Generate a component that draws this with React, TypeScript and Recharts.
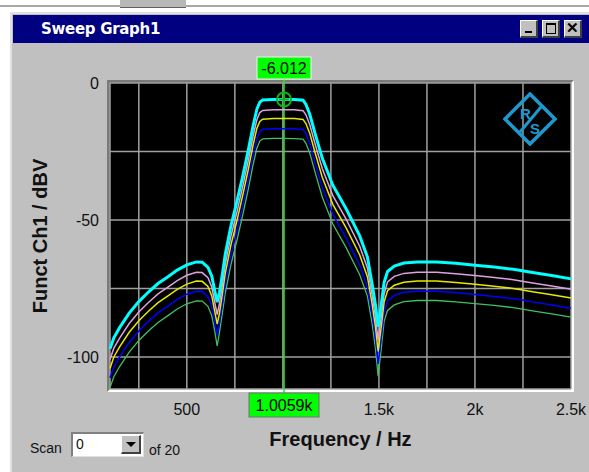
import React from "react";
import {
  LineChart,
  Line,
  XAxis,
  YAxis,
  CartesianGrid,
  ReferenceLine,
  ReferenceDot,
  Label,
} from "recharts";

// sweep frequencies (Hz)
const freqHz = [
  100, 120, 150, 200, 250, 300, 350, 400, 450, 500, 550, 580, 610, 630, 645,
  658, 670, 685, 700, 730, 760, 790, 820, 845, 865, 880, 895, 950, 1006, 1060,
  1105, 1120, 1140, 1170, 1205, 1260, 1330, 1400, 1440, 1465, 1482, 1496, 1512,
  1527, 1545, 1580, 1630, 1700, 1800, 1900, 2000, 2100, 2200, 2300, 2400, 2500,
];

// levels in dBV, one array per scan trace
const traceCyan = [
  -97, -93, -89.3, -84, -79.8, -76.3, -73.2, -70.8, -68.3, -66.4, -65.3, -65.4,
  -67.3, -70.5, -75.8, -80, -76.5, -69.8, -62.5, -52, -43.5, -34.3, -24.5,
  -15.6, -9.5, -7, -6.2, -6, -6.01, -6, -6.3, -7.8, -11.4, -19, -27.4, -37.3,
  -46, -55.8, -63.5, -73.5, -81, -89, -81, -72.8, -68.8, -66.8, -65.7, -65.3,
  -65.3, -65.8, -66.5, -67.2, -68, -69.2, -70.3, -71.5,
];
const tracePink = [
  -100.9, -96.8, -93.1, -87.8, -83.6, -80.1, -77, -74.6, -72.1, -70.2, -69.1,
  -69.2, -71.1, -74.5, -80, -84.5, -80.5, -73.8, -66.3, -55.8, -47.3, -38.1,
  -28.3, -19.4, -13.3, -10.8, -10, -9.8, -9.8, -9.8, -10.1, -11.6, -15.2,
  -22.8, -31.2, -41.1, -49.8, -59.6, -67.5, -77.5, -85.5, -94, -85.5, -77,
  -72.6, -70.6, -69.5, -69.1, -69.1, -69.6, -70.3, -71, -71.8, -73, -74.1,
  -75.3,
];
const traceYellow = [
  -104.2, -100, -96.3, -91, -86.8, -83.3, -80.2, -77.8, -75.3, -73.4, -72.3,
  -72.4, -74.3, -77.7, -83.3, -88, -84, -77, -69.5, -59, -50.5, -41.3, -31.5,
  -22.6, -16.5, -14, -13.2, -13, -13, -13, -13.3, -14.8, -18.4, -26, -34.4,
  -44.3, -53, -62.8, -70.7, -80.8, -89, -98, -89, -80, -75.8, -73.8, -72.7,
  -72.3, -72.3, -72.8, -73.5, -74.2, -75, -76.2, -77.3, -78.5,
];
const traceBlue = [
  -107.7, -103.7, -100, -94.7, -90.5, -87, -83.9, -81.5, -79, -77.1, -76,
  -76.1, -78, -81.4, -87, -92, -87.5, -80.7, -73.2, -62.7, -54.2, -45, -35.2,
  -26.3, -20.2, -17.7, -16.9, -16.7, -16.7, -16.7, -17, -18.5, -22.1, -29.7,
  -38.1, -48, -56.7, -66.5, -74.4, -84.5, -93, -102.5, -93, -83.7, -79.5,
  -77.5, -76.4, -76, -76, -76.5, -77.2, -77.9, -78.7, -79.9, -81, -82.2,
];
const traceGreen = [
  -111.2, -107.2, -103.5, -98.2, -94, -90.5, -87.4, -85, -82.5, -80.6, -79.5,
  -79.6, -81.5, -85, -90.5, -96, -91, -84, -76.7, -66.2, -57.7, -48.5, -38.7,
  -29.8, -23.7, -21.2, -20.4, -20.2, -20.2, -20.3, -20.5, -22, -25.6, -33.2,
  -41.6, -51.5, -60.2, -70, -77.8, -88, -97, -107, -97, -87, -83, -81, -79.8,
  -79.4, -79.4, -79.9, -80.5, -81.2, -82, -83.2, -84.3, -85.5,
];

const xTicks = [250, 500, 750, 1000, 1250, 1500, 1750, 2000, 2250, 2500];
const xTickText: Record<number, string> = {
  500: "500",
  1500: "1.5k",
  2000: "2k",
  2500: "2.5k",
};
const yTicks = [0, -25, -50, -75, -100];
const yTickText: Record<number, string> = { 0: "0", [-50]: "-50", [-100]: "-100" };

const cursorFreq = 1005.9;
const cursorLevel = -6.012;
const cursorLevelText = "-6.012";
const cursorFreqText = "1.0059k";

const FONT = '"Liberation Sans", Arial, sans-serif';

const chartData = freqHz.map((f, i) => ({
  f,
  cyan: traceCyan[i],
  pink: tracePink[i],
  yellow: traceYellow[i],
  blue: traceBlue[i],
  green: traceGreen[i],
}));

function CursorTags(props: any) {
  const vb = props.viewBox;
  if (!vb) return null;
  const { x, y, height } = vb;
  const bottom = y + height;
  return (
    <g>
      <line x1={x} x2={x} y1={y - 5} y2={y} stroke="#30e030" strokeWidth={1.5} />
      <line x1={x} x2={x} y1={bottom} y2={bottom + 5} stroke="#30e030" strokeWidth={1.5} />
      <rect x={x - 27} y={y - 26} width={54} height={22} fill="#00ff00" stroke="#f0f0f0" strokeWidth={1} />
      <text x={x} y={y - 9} textAnchor="middle" fontSize={16} fontFamily={FONT} fill="#000">
        {cursorLevelText}
      </text>
      <rect x={x - 35} y={bottom + 4} width={70} height={24} fill="#00ff00" stroke="#707070" strokeWidth={1} />
      <text x={x} y={bottom + 22} textAnchor="middle" fontSize={16} fontFamily={FONT} fill="#000">
        {cursorFreqText}
      </text>
    </g>
  );
}

function CursorMarker(props: any) {
  const { cx, cy } = props;
  return (
    <g>
      <circle cx={cx} cy={cy} r={7} fill="none" stroke="#10b010" strokeWidth={2} />
      <line x1={cx - 5} x2={cx + 5} y1={cy} y2={cy} stroke="#10b010" strokeWidth={2} />
      <line x1={cx} x2={cx} y1={cy - 5} y2={cy + 5} stroke="#10b010" strokeWidth={2} />
    </g>
  );
}

function TitleButton({ left, children }: { left: number; children: React.ReactNode }) {
  return (
    <div
      style={{
        position: "absolute",
        left,
        top: 20,
        width: 18,
        height: 18,
        boxSizing: "border-box",
        background: "#c0c0c0",
        borderTop: "1px solid #fff",
        borderLeft: "1px solid #fff",
        borderRight: "2px solid #404040",
        borderBottom: "2px solid #404040",
      }}
    >
      {children}
    </div>
  );
}

export default function App() {
  return (
    <div
      style={{
        position: "absolute",
        left: 0,
        top: 0,
        width: 589,
        height: 472,
        overflow: "hidden",
        background: "#fff",
        fontFamily: FONT,
      }}
    >
      {/* strip of the window behind */}
      <div style={{ position: "absolute", left: 0, top: 5, width: 589, height: 2, background: "#a8a8a8" }} />
      <div style={{ position: "absolute", left: 120, top: 0, width: 66, height: 7, background: "#b8b8b8", borderBottom: "1px solid #606060" }} />

      {/* window body */}
      <div
        style={{
          position: "absolute",
          left: 10,
          top: 12,
          width: 590,
          height: 470,
          background: "#c0c0c0",
          borderLeft: "2px solid #e0e0e0",
          borderTop: "2px solid #e0e0e0",
        }}
      />
      {/* title bar */}
      <div
        style={{
          position: "absolute",
          left: 13,
          top: 15,
          width: 576,
          height: 28,
          background: "#000080",
        }}
      />
      <div
        style={{
          position: "absolute",
          left: 41,
          top: 20,
          color: "#fff",
          fontWeight: "bold",
          fontSize: 15,
          fontFamily: '"DejaVu Sans", Verdana, sans-serif',
          letterSpacing: -0.3,
        }}
      >
        Sweep Graph1
      </div>
      <TitleButton left={520}>
        <div style={{ position: "absolute", left: 4, top: 10, width: 7, height: 2, background: "#000" }} />
      </TitleButton>
      <TitleButton left={542}>
        <div style={{ position: "absolute", left: 3, top: 2, width: 8, height: 8, border: "1px solid #000", borderTopWidth: 2 }} />
      </TitleButton>
      <TitleButton left={564}>
        <div style={{ position: "absolute", left: 1, top: -2, fontSize: 15, fontWeight: "bold", color: "#000" }}>
          ✕
        </div>
      </TitleButton>

      {/* sunken plot frame */}
      <div
        style={{
          position: "absolute",
          left: 107,
          top: 80,
          width: 461,
          height: 306,
          background: "#000",
          borderTop: "3px solid #7a7a7a",
          borderLeft: "3px solid #7a7a7a",
          borderRight: "3px solid #fff",
          borderBottom: "3px solid #fff",
        }}
      />

      <div style={{ position: "absolute", left: 0, top: 0 }}>
        <LineChart
          width={589}
          height={472}
          data={chartData}
          margin={{ top: 83, right: 18, bottom: 53, left: 80 }}
        >
          <CartesianGrid stroke="#a0a0a0" strokeWidth={1.5} />
          <XAxis
            dataKey="f"
            type="number"
            domain={[100, 2500]}
            ticks={xTicks}
            tickFormatter={(v: number) => xTickText[v] ?? ""}
            tickLine={false}
            axisLine={false}
            tickSize={0}
            tickMargin={15}
            height={30}
            tick={{ fontSize: 16, fill: "#111", fontFamily: FONT }}
            interval={0}
          >
            <Label
              value="Frequency / Hz"
              position="bottom"
              offset={13}
              style={{ fontSize: 20, fontWeight: "bold", fill: "#111", fontFamily: FONT }}
            />
          </XAxis>
          <YAxis
            type="number"
            domain={[-111.7, 0]}
            ticks={yTicks}
            tickFormatter={(v: number) => yTickText[v] ?? ""}
            tickLine={false}
            axisLine={false}
            tickSize={0}
            tickMargin={11}
            width={30}
            allowDataOverflow
            tick={{ fontSize: 16, fill: "#111", fontFamily: FONT }}
            interval={0}
          >
            <Label
              value="Funct Ch1 / dBV"
              angle={-90}
              position="left"
              offset={40}
              style={{ fontSize: 20, fontWeight: "bold", fill: "#111", fontFamily: FONT, textAnchor: "middle" }}
            />
          </YAxis>
          <ReferenceLine
            x={cursorFreq}
            stroke="#30e030"
            strokeWidth={1.5}
            label={<CursorTags />}
          />
          <Line dataKey="green" stroke="#40c060" strokeWidth={1.3} dot={false} isAnimationActive={false} />
          <Line dataKey="blue" stroke="#0000ff" strokeWidth={1.5} dot={false} isAnimationActive={false} />
          <Line dataKey="yellow" stroke="#e8e800" strokeWidth={1.5} dot={false} isAnimationActive={false} />
          <Line dataKey="pink" stroke="#e0a0e0" strokeWidth={1.5} dot={false} isAnimationActive={false} />
          <Line dataKey="cyan" stroke="#00ffff" strokeWidth={3} dot={false} isAnimationActive={false} />
          <ReferenceDot x={cursorFreq} y={cursorLevel} r={7} shape={<CursorMarker />} />
        </LineChart>
      </div>

      {/* R&S logo */}
      <svg style={{ position: "absolute", left: 503, top: 92 }} width={54} height={54}>
        <polygon points="27,2 52,27 27,52 2,27" fill="none" stroke="#1c9ad0" strokeWidth={3.5} />
        <line x1={17} y1={40} x2={38} y2={15} stroke="#1c9ad0" strokeWidth={3} />
        <text x={17} y={27} fontSize={15} fontWeight="bold" fill="#1c9ad0" fontFamily={FONT}>R</text>
        <text x={27} y={42} fontSize={15} fontWeight="bold" fill="#1c9ad0" fontFamily={FONT}>S</text>
      </svg>

      {/* scan selector */}
      <div style={{ position: "absolute", left: 30, top: 440, fontSize: 14, color: "#111" }}>Scan</div>
      <div
        style={{
          position: "absolute",
          left: 71,
          top: 432,
          width: 70,
          height: 22,
          background: "#fff",
          borderTop: "2px solid #808080",
          borderLeft: "2px solid #808080",
          borderRight: "1px solid #e0e0e0",
          borderBottom: "1px solid #e0e0e0",
        }}
      >
        <div style={{ position: "absolute", left: 3, top: 2, fontSize: 14, color: "#111" }}>0</div>
        <div
          style={{
            position: "absolute",
            left: 48,
            top: 1,
            width: 20,
            height: 19,
            boxSizing: "border-box",
            background: "#c0c0c0",
            borderTop: "1px solid #fff",
            borderLeft: "1px solid #fff",
            borderRight: "2px solid #404040",
            borderBottom: "2px solid #404040",
          }}
        >
          <div
            style={{
              position: "absolute",
              left: 4,
              top: 6,
              width: 0,
              height: 0,
              borderLeft: "5px solid transparent",
              borderRight: "5px solid transparent",
              borderTop: "5px solid #000",
            }}
          />
        </div>
      </div>
      <div style={{ position: "absolute", left: 149, top: 442, fontSize: 14, color: "#111" }}>of 20</div>
    </div>
  );
}
